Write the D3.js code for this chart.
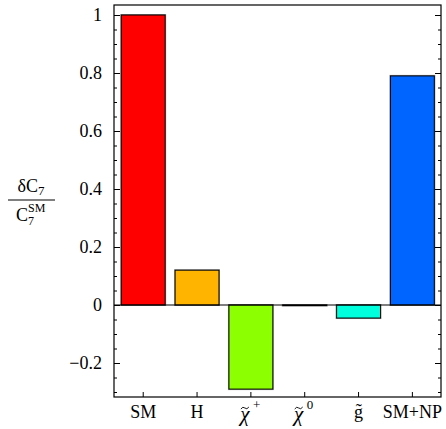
<!DOCTYPE html>
<html>
<head>
<meta charset="utf-8">
<script src="https://cdn.jsdelivr.net/npm/d3@7"></script>
<style>
  body { margin: 0; background: #fff; }
</style>
</head>
<body>
<div id="chart"></div>
<script>
var categories = ["SM", "H", "chargino", "neutralino", "gluino", "SM+NP"];
var values = [1.0, 0.12, -0.29, -0.002, -0.045, 0.79];
var colors = ["#ff0000", "#ffb400", "#8cff00", "#7f7f7f", "#00ffdc", "#0064ff"];
var yTicks = [-0.2, 0, 0.2, 0.4, 0.6, 0.8, 1];

var width = 446, height = 429;
var frame = { left: 114, right: 441, top: 5, bottom: 397 };
var serif = "'Liberation Serif', 'Times New Roman', serif";

var svg = d3.select("#chart").append("svg")
    .attr("width", width)
    .attr("height", height);

var y = d3.scaleLinear().domain([0, 1]).range([305, 15]);
var x = d3.scaleBand()
    .domain(categories)
    .range([116.3, 439.3])
    .paddingInner(0.185)
    .paddingOuter(0.0925);

// bars (with a faint grey shadow edge like the original)
var bars = svg.append("g");
bars.selectAll("rect.shadow")
    .data(values)
    .enter()
    .append("rect")
    .attr("x", function(d, i) { return x(categories[i]) - 0.5; })
    .attr("y", function(d) { return Math.min(y(d), y(0)) - 0.5; })
    .attr("width", x.bandwidth() + 1)
    .attr("height", function(d) { return Math.max(Math.abs(y(d) - y(0)), 0.5) + 1; })
    .attr("fill", "none")
    .attr("stroke", "#999")
    .attr("stroke-width", 1);
bars.selectAll("rect.bar")
    .data(values)
    .enter()
    .append("rect")
    .attr("x", function(d, i) { return x(categories[i]); })
    .attr("y", function(d) { return Math.min(y(d), y(0)); })
    .attr("width", x.bandwidth())
    .attr("height", function(d) { return Math.max(Math.abs(y(d) - y(0)), 0.5); })
    .attr("fill", function(d, i) { return colors[i]; })
    .attr("stroke", "#000")
    .attr("stroke-width", 1);

// zero line
svg.append("line")
    .attr("x1", frame.left).attr("x2", frame.right)
    .attr("y1", y(0)).attr("y2", y(0))
    .attr("stroke", "#000").attr("stroke-width", 1.2);

// frame
svg.append("rect")
    .attr("x", frame.left).attr("y", frame.top)
    .attr("width", frame.right - frame.left)
    .attr("height", frame.bottom - frame.top)
    .attr("fill", "none")
    .attr("stroke", "#000")
    .attr("stroke-width", 1.2);

// y ticks, inward on both sides
var minor = d3.range(-0.3, 1.0001, 0.05).filter(function(v) {
    return !yTicks.some(function(t) { return Math.abs(t - v) < 1e-6; });
});
var yAxisL = d3.axisLeft(y).tickValues(yTicks).tickSize(-6).tickPadding(12)
    .tickFormat(function(d) { return d === 0 ? "0" : d3.format("")(d).replace("-", "\u2212"); });
var gl = svg.append("g").attr("transform", "translate(" + frame.left + ",0)").call(yAxisL);
gl.select(".domain").remove();
gl.selectAll("text").style("font-size", "18px");
gl.selectAll("line").attr("stroke-width", 1);

var gm = svg.append("g").attr("transform", "translate(" + frame.left + ",0)")
    .call(d3.axisLeft(y).tickValues(minor).tickSize(-3).tickFormat(""));
gm.select(".domain").remove();

var gr = svg.append("g").attr("transform", "translate(" + frame.right + ",0)")
    .call(d3.axisRight(y).tickValues(yTicks).tickSize(-6).tickFormat(""));
gr.select(".domain").remove();
var gr2 = svg.append("g").attr("transform", "translate(" + frame.right + ",0)")
    .call(d3.axisRight(y).tickValues(minor).tickSize(-3).tickFormat(""));
gr2.select(".domain").remove();

// x ticks inward
var xAxis = d3.axisBottom(x).tickSize(-5).tickFormat("");
var gx = svg.append("g").attr("transform", "translate(0," + frame.bottom + ")").call(xAxis);
gx.select(".domain").remove();

// category labels
var labelY = 418;
var cx = function(c) { return x(c) + x.bandwidth() / 2; };
function catLabel(c, base) {
    return svg.append("text")
        .attr("x", cx(c)).attr("y", labelY)
        .attr("text-anchor", "middle")
        .style("font-size", "18px")
        .text(base);
}
catLabel("SM", "SM");
catLabel("H", "H");
catLabel("gluino", "g\u0303");
catLabel("SM+NP", "SM+NP");

// neutralino / chargino: italic chi, a drawn tilde above, superscript
function chiLabel(c, sup) {
    var px = cx(c) - 6;
    svg.append("text")
        .attr("x", px).attr("y", labelY + 3)
        .attr("text-anchor", "middle")
        .style("font-size", "21px").style("font-style", "italic")
        .text("\u03c7");
    svg.append("path")
        .attr("d", "M" + (px - 4) + "," + 409 + " q2,-3 4,-1 t4,-1")
        .attr("fill", "none").attr("stroke", "#000").attr("stroke-width", 0.9);
    svg.append("text")
        .attr("x", px + 8).attr("y", labelY - 9)
        .style("font-size", "13px")
        .text(sup);
}
chiLabel("chargino", "+");
chiLabel("neutralino", "0");

// y label fraction
var lab = svg.append("g");
var num = lab.append("text").attr("x", 31).attr("y", 192).attr("text-anchor", "middle").style("font-size", "18px");
num.append("tspan").text("\u03b4C");
num.append("tspan").attr("dy", 3).style("font-size", "13px").text("7");
lab.append("line").attr("x1", 8).attr("x2", 55).attr("y1", 200).attr("y2", 200)
    .attr("stroke", "#000").attr("stroke-width", 1);
lab.append("text").attr("x", 16).attr("y", 221).style("font-size", "18px").text("C");
lab.append("text").attr("x", 28).attr("y", 225).style("font-size", "12px").text("7");
lab.append("text").attr("x", 28).attr("y", 212).style("font-size", "12px").text("SM");

svg.selectAll("text").style("font-family", serif).attr("fill", "#000");
</script>
</body>
</html>
